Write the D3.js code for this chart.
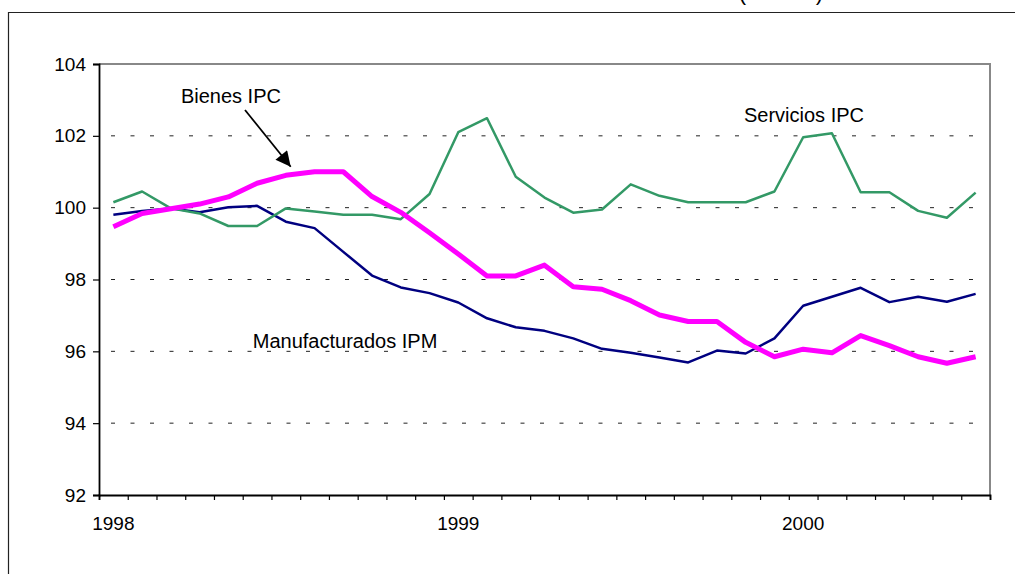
<!DOCTYPE html>
<html>
<head>
<meta charset="utf-8">
<script src="https://cdn.jsdelivr.net/npm/d3@7"></script>
<style>
  body { margin: 0; background: #fff; }
  text { font-family: "Liberation Sans", Arial, sans-serif; fill: #000; }
</style>
</head>
<body>
<div id="chart"></div>
<script>
// Monthly categories, Jan 1998 - Jul 2000
const months = [
    "1998-01", "1998-02", "1998-03", "1998-04", "1998-05", "1998-06",
    "1998-07", "1998-08", "1998-09", "1998-10", "1998-11", "1998-12",
    "1999-01", "1999-02", "1999-03", "1999-04", "1999-05", "1999-06",
    "1999-07", "1999-08", "1999-09", "1999-10", "1999-11", "1999-12",
    "2000-01", "2000-02", "2000-03", "2000-04", "2000-05", "2000-06",
    "2000-07"
]

const bienesIPC = [
    99.47, 99.84, 99.97, 100.10, 100.30, 100.68, 100.90, 101.00, 101.00, 100.31,
    99.87, 99.30, 98.71, 98.10, 98.10, 98.40, 97.80, 97.73, 97.41, 97.01,
    96.83, 96.83, 96.25, 95.85, 96.06, 95.96, 96.44, 96.16, 95.85, 95.67,
    95.85
]
const manufacturadosIPM = [
    99.80, 99.91, 99.98, 99.87, 100.01, 100.05, 99.61, 99.43, 98.77, 98.11,
    97.78, 97.62, 97.36, 96.92, 96.67, 96.57, 96.36, 96.07, 95.96, 95.83,
    95.69, 96.02, 95.94, 96.36, 97.27, 97.52, 97.77, 97.37, 97.52, 97.38,
    97.60
]
const serviciosIPC = [
    100.15, 100.45, 99.98, 99.84, 99.49, 99.49, 99.98, 99.89, 99.80, 99.80,
    99.68, 100.38, 102.10, 102.49, 100.86, 100.28, 99.86, 99.95, 100.65, 100.33,
    100.15, 100.15, 100.15, 100.45, 101.96, 102.07, 100.43, 100.43, 99.91, 99.72,
    100.42
]

const yTicks = [92, 94, 96, 98, 100, 102, 104]
const yearLabels = [
    {month: "1998-01", label: "1998"},
    {month: "1999-01", label: "1999"},
    {month: "2000-01", label: "2000"}
]

const series = [
    {name: "Manufacturados IPM", values: manufacturadosIPM, color: "#000080", width: 2.5},
    {name: "Servicios IPC",      values: serviciosIPC,      color: "#339966", width: 2.5},
    {name: "Bienes IPC",         values: bienesIPC,         color: "#ff00ff", width: 5}
]

const W = 1015, H = 574
const margin = {left: 99, right: 25, top: 64, bottom: 79}

const svg = d3.select("#chart").append("svg")
    .attr("width", W).attr("height", H)

// outer frame (cut off on right and bottom)
svg.append("path")
    .attr("d", `M8.5,${H} V12.5 H${W}`)
    .attr("fill", "none").attr("stroke", "#222").attr("stroke-width", 1.2)

// title, mostly cut off at the top in the source
svg.append("text")
    .attr("x", 823).attr("y", 0)
    .attr("text-anchor", "end")
    .attr("font-size", 22)
    .text("(índices)")

const x = d3.scaleLinear()
    .domain([0, months.length])
    .range([margin.left, W - margin.right])
const y = d3.scaleLinear()
    .domain([92, 104])
    .range([H - margin.bottom, margin.top])

const xc = m => x(months.indexOf(m) + 0.5)

// gridlines
svg.append("g")
    .selectAll("line")
    .data(yTicks.filter(d => d > 92 && d < 104))
    .join("line")
    .attr("x1", x(0) + 12).attr("x2", x(months.length) - 4)
    .attr("y1", d => y(d)).attr("y2", d => y(d))
    .attr("stroke", "#222").attr("stroke-width", 1)
    .attr("stroke-dasharray", "4,15.5")

// plot border top/right
svg.append("path")
    .attr("d", `M${x(0)},${y(104)} H${x(months.length)} V${y(92)}`)
    .attr("fill", "none").attr("stroke", "#888").attr("stroke-width", 2)

// y axis
const yAxis = svg.append("g")
    .attr("transform", `translate(${x(0)},0)`)
    .call(d3.axisLeft(y).tickValues(yTicks).tickSize(6).tickPadding(7).tickFormat(d3.format("d")))
yAxis.select(".domain").attr("stroke", "#000").attr("stroke-width", 1.8)
yAxis.selectAll(".tick line").attr("stroke", "#000").attr("stroke-width", 1.2)
yAxis.selectAll("text").attr("font-size", 19).attr("font-family", "Liberation Sans, Arial, sans-serif")

// x axis: ticks at category boundaries
const xAxis = svg.append("g")
    .attr("transform", `translate(0,${y(92)})`)
    .call(d3.axisBottom(x).tickValues(d3.range(months.length + 1)).tickSize(5).tickFormat(""))
xAxis.select(".domain").attr("stroke", "#000").attr("stroke-width", 1.8)
xAxis.selectAll(".tick line").attr("stroke", "#000").attr("stroke-width", 1.2)

svg.append("g")
    .selectAll("text")
    .data(yearLabels)
    .join("text")
    .attr("x", d => xc(d.month))
    .attr("y", y(92) + 35)
    .attr("text-anchor", "middle")
    .attr("font-size", 19)
    .text(d => d.label)

// lines
const line = d3.line()
    .x((d, i) => x(i + 0.5))
    .y(d => y(d))

svg.append("g")
    .selectAll("path")
    .data(series)
    .join("path")
    .attr("d", d => line(d.values))
    .attr("fill", "none")
    .attr("stroke", d => d.color)
    .attr("stroke-width", d => d.width)
    .attr("stroke-linejoin", "round")

// annotations (positions in chart coordinates: month index, value)
const labels = [
    {text: "Bienes IPC",         i: 2.85,  v: 102.91},
    {text: "Servicios IPC",      i: 22.44, v: 102.39},
    {text: "Manufacturados IPM", i: 5.35,  v: 96.09}
]
svg.append("g")
    .selectAll("text")
    .data(labels)
    .join("text")
    .attr("x", d => x(d.i))
    .attr("y", d => y(d.v))
    .attr("font-size", 20)
    .text(d => d.text)

// arrow from "Bienes IPC" to its line
svg.append("defs").append("marker")
    .attr("id", "arrow")
    .attr("viewBox", "0 0 10 10")
    .attr("refX", 10).attr("refY", 5)
    .attr("markerWidth", 18).attr("markerHeight", 15)
    .attr("markerUnits", "userSpaceOnUse")
    .attr("orient", "auto")
    .append("path")
    .attr("d", "M0,0 L10,5 L0,10 Z")
    .attr("fill", "#000")

svg.append("line")
    .attr("x1", x(5.08)).attr("y1", y(102.72))
    .attr("x2", x(6.67)).attr("y2", y(101.14))
    .attr("stroke", "#000").attr("stroke-width", 1.8)
    .attr("marker-end", "url(#arrow)")
</script>
</body>
</html>
